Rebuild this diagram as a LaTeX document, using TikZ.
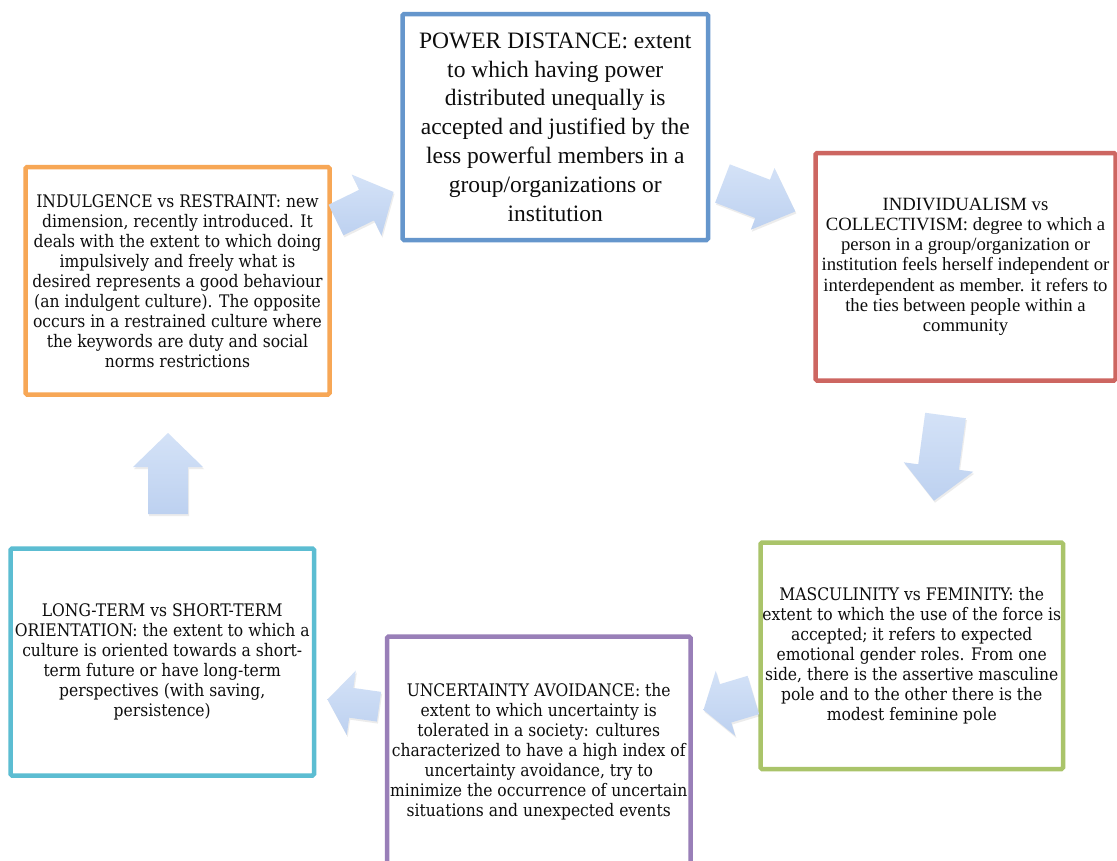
\documentclass[tikz,border=0pt]{standalone}
\usepackage{fontspec}
\setmainfont{Liberation Serif}
\newfontfamily\cambfont{DejaVu Serif Condensed}
\usetikzlibrary{shadows}
\definecolor{pdblue}{HTML}{6596CC}
\definecolor{icred}{HTML}{CD6661}
\definecolor{mfgreen}{HTML}{AAC46A}
\definecolor{uapurple}{HTML}{997FB8}
\definecolor{ltcyan}{HTML}{5CBDD2}
\definecolor{irorange}{HTML}{F7A756}
\definecolor{arrtop}{HTML}{D4E2F7}
\definecolor{arrbot}{HTML}{BDD1F0}
\tikzset{
  box/.style={draw, line width=4.5pt, rounded corners=1.5pt, fill=white, align=center, inner sep=0pt, text=black!95},
  timestext/.style={font=\fontsize{23.5}{28.8}\selectfont},
  timessmall/.style={font=\fontsize{18.7}{20.3}\selectfont},
  cambtext/.style={font=\cambfont\fontsize{17.3}{20}\selectfont},
  blockarrow/.style={top color=arrtop, bottom color=arrbot, draw=none,
    drop shadow={opacity=0.15, shadow xshift=1pt, shadow yshift=-2pt}}
}
\newcommand\blockarrow[7]{%
  \begin{scope}[shift={(#1,#2)},rotate=#3]
    \path[blockarrow] (0,-#6) -- ({#4-#5},-#6) -- ({#4-#5},-#7) -- (#4,0)
      -- ({#4-#5},#7) -- ({#4-#5},#6) -- (0,#6) -- cycle;
  \end{scope}}
\begin{document}
\begin{tikzpicture}[x=1pt,y=-1pt]
\clip (0,0) rectangle (1117,860);
\fill[white] (0,0) rectangle (1117,860);

\node[box, draw=pdblue, timestext, minimum width=305.5pt, minimum height=226pt] (pd) at (555.25,127)
 {POWER DISTANCE: extent\\ to which having power\\ distributed unequally is\\ accepted and justified by the\\ less powerful members in a\\ group/organizations or\\ institution};

\node[box, draw=icred, timessmall, minimum width=300pt, minimum height=227.5pt] (ic) at (965.5,266.75)
 {INDIVIDUALISM vs\\ COLLECTIVISM: degree to which a\\ person in a group/organization or\\ institution feels herself independent or\\ interdependent as member. it refers to\\ the ties between people within a\\ community};

\node[box, draw=mfgreen, cambtext, minimum width=302.5pt, minimum height=226.5pt] (mf) at (911.75,655.75)
 {MASCULINITY vs FEMINITY: the\\ extent to which the use of the force is\\ accepted; it refers to expected\\ emotional gender roles. From one\\ side, there is the assertive masculine\\ pole and to the other there is the\\ modest feminine pole};

\node[box, draw=uapurple, cambtext, minimum width=303.5pt, minimum height=229.5pt] (ua) at (538.75,751.25)
 {UNCERTAINTY AVOIDANCE: the\\ extent to which uncertainty is\\ tolerated in a society: cultures\\ characterized to have a high index of\\ uncertainty avoidance, try to\\ minimize the occurrence of uncertain\\ situations and unexpected events};

\node[box, draw=ltcyan, cambtext, minimum width=303.5pt, minimum height=227pt] (lt) at (162.25,662)
 {LONG-TERM vs SHORT-TERM\\ ORIENTATION: the extent to which a\\ culture is oriented towards a short-\\ term future or have long-term\\ perspectives (with saving,\\ persistence)};

\node[box, draw=irorange, cambtext, minimum width=304pt, minimum height=227.5pt] (ir) at (177.5,280.75)
 {INDULGENCE vs RESTRAINT: new\\ dimension, recently introduced. It\\ deals with the extent to which doing\\ impulsively and freely what is\\ desired represents a good behaviour\\ (an indulgent culture). The opposite\\ occurs in a restrained culture where\\ the keywords are duty and social\\ norms restrictions};

% block arrows between the boxes: tail x, tail y, angle, length, head length, shaft half-width, head half-width
\blockarrow{336}{220}{26}{64}{30}{17}{34}
\blockarrow{722.5}{183.5}{-21}{78}{35}{20.5}{33}
\blockarrow{945.5}{415.5}{-97.7}{86}{34}{20.5}{35}
\blockarrow{753.3}{695}{196.7}{52}{23}{20}{34}
\blockarrow{379}{706.7}{172}{52}{24}{15}{32.5}
\blockarrow{168}{514}{90}{81}{34}{20}{35}
\end{tikzpicture}
\end{document}
